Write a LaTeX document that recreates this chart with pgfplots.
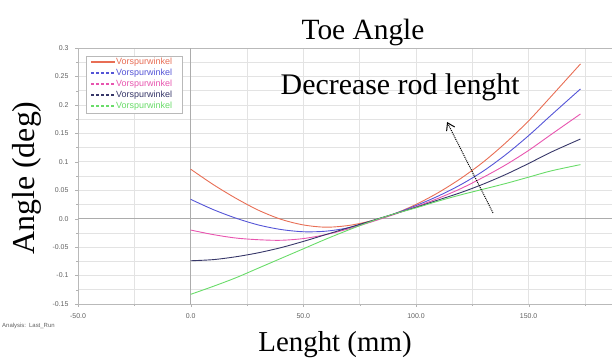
\documentclass[border=0pt]{standalone}
\usepackage{fontspec}
\setmainfont{Liberation Serif}
\setsansfont{Liberation Sans}
\usepackage{pgfplots}
\pgfplotsset{compat=1.18}
\usetikzlibrary{arrows.meta}
\definecolor{c1}{RGB}{232,110,85}
\definecolor{c2}{RGB}{85,85,215}
\definecolor{c3}{RGB}{232,85,175}
\definecolor{c4}{RGB}{55,55,105}
\definecolor{c5}{RGB}{105,220,105}
\tikzset{mydash/.style={dash pattern=on 3bp off 2bp}}
\begin{document}
\begin{tikzpicture}
\useasboundingbox (0bp,0bp) rectangle (612bp,358bp);
\begin{axis}[at={(78bp,54bp)}, anchor=south west, scale only axis,
  width=534bp, height=256bp,
  xmin=-50, xmax=187, ymin=-0.15, ymax=0.3,
  xtick={-50,0,50,100,150}, xticklabels={-50.0,0.0,50.0,100.0,150.0},
  minor xtick={-25,25,75,125,175},
  ytick={-0.15,-0.1,-0.05,0,0.05,0.1,0.15,0.2,0.25,0.3},
  yticklabels={-0.15,-0.1,-0.05,0.0,0.05,0.1,0.15,0.2,0.25,0.3},
  minor ytick={-0.125,-0.075,-0.025,0.025,0.075,0.125,0.175,0.225,0.275},
  grid=both,
  major grid style={gray!22, line width=0.6bp},
  minor grid style={gray!22, line width=0.6bp},
  axis line style={gray!55, line width=0.8bp},
  tick style={gray!60}, tick align=outside, tick pos=left,
  major tick length=3bp, minor tick length=2bp,
  ticklabel style={font=\sffamily\fontsize{7}{8}\selectfont, text=gray!75!black},
  yticklabel style={xshift=-3bp},
  xticklabel style={yshift=-3bp},
]
\draw[gray!65, line width=1.1bp] (0,-0.15) -- (0,0.3);
\draw[gray!65, line width=1.1bp] (-50,0) -- (187,0);

\addplot[c1, line width=0.9bp, smooth] coordinates {
(0,0.087) (10,0.060) (20,0.036) (30,0.015) (40,-0.001) (50,-0.011) (60,-0.015)
(70,-0.012) (80,-0.004) (90,0.008) (100,0.025) (110,0.046) (120,0.071) (130,0.100)
(140,0.134) (150,0.172) (160,0.215) (173,0.272)};
\addplot[c2, line width=0.9bp, smooth] coordinates {
(0,0.034) (10,0.016) (20,0.001) (30,-0.011) (40,-0.019) (50,-0.023) (60,-0.022)
(70,-0.016) (80,-0.005) (90,0.008) (100,0.023) (110,0.040) (120,0.060) (130,0.084)
(140,0.113) (150,0.146) (160,0.182) (173,0.228)};
\addplot[c3, line width=0.9bp, smooth] coordinates {
(0,-0.020) (10,-0.028) (20,-0.034) (30,-0.037) (40,-0.038) (50,-0.035) (60,-0.028)
(70,-0.018) (80,-0.006) (90,0.007) (100,0.021) (110,0.036) (120,0.053) (130,0.073)
(140,0.095) (150,0.120) (160,0.148) (173,0.184)};
\addplot[c4, line width=0.9bp, smooth] coordinates {
(0,-0.074) (10,-0.072) (20,-0.067) (30,-0.060) (40,-0.051) (50,-0.040) (60,-0.028)
(70,-0.016) (80,-0.004) (90,0.008) (100,0.020) (110,0.033) (120,0.046) (130,0.061)
(140,0.078) (150,0.097) (160,0.117) (173,0.140)};
\addplot[c5, line width=0.9bp, smooth] coordinates {
(0,-0.133) (10,-0.119) (20,-0.104) (30,-0.087) (40,-0.070) (50,-0.053) (60,-0.036)
(70,-0.020) (80,-0.005) (90,0.008) (100,0.019) (110,0.031) (120,0.042) (130,0.052)
(140,0.062) (150,0.073) (160,0.084) (173,0.095)};

\node[font=\fontsize{30}{30}\selectfont, anchor=center] at (93,0.23) {Decrease rod lenght};
\draw[black, line width=1bp, densely dotted, -{Straight Barb[length=7bp,width=9bp]}]
  (134.2,0.010) -- (113.8,0.170);
\end{axis}
% legend box
\draw[draw=gray!55, fill=white, line width=0.6bp] (86bp,245bp) rectangle (182bp,302bp);
\foreach \c/\yy/\st in {c1/296/solid, c2/285/mydash, c3/274/mydash, c4/263/mydash, c5/252/mydash}{
  \draw[draw=\c, line width=1.1bp, \st] (91bp,\yy bp) -- (115bp,\yy bp);
  \node[anchor=west, inner sep=0pt, text=\c, font=\sffamily\fontsize{9}{9}\selectfont] at (116bp,\yy bp) {Vorspurwinkel};
}
\node[font=\fontsize{29.5}{30}\selectfont, anchor=base] at (363bp,318bp) {Toe Angle};
\node[font=\fontsize{29}{30}\selectfont, anchor=base] at (335bp,6.5bp) {Lenght (mm)};
\node[font=\fontsize{32}{32}\selectfont, anchor=base, rotate=90] at (34bp,180bp) {Angle (deg)};
\node[font=\sffamily\fontsize{6}{7}\selectfont, anchor=west, text=gray!75!black, inner sep=0pt] at (2bp,32bp) {Analysis:\enspace Last\_Run};
\end{tikzpicture}
\end{document}
